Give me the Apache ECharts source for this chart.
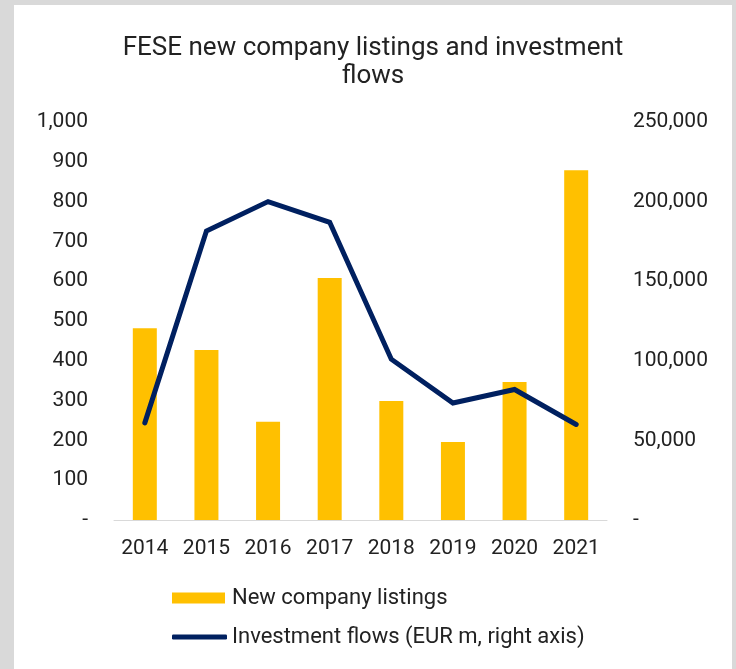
<!DOCTYPE html>
<html>
<head>
<meta charset="utf-8">
<script src="https://cdn.jsdelivr.net/npm/echarts@6/dist/echarts.min.js"></script>
<style>
  html, body { margin: 0; padding: 0; background: #d9d9d9; }
  #container { width: 736px; height: 669px; }
</style>
</head>
<body>
<div id="container"></div>
<script>
var years = ['2014', '2015', '2016', '2017', '2018', '2019', '2020', '2021'];
var listings = [482, 427, 247, 608, 299, 196, 347, 879];
var flows = [61000, 181500, 200000, 187000, 101000, 73500, 82000, 60000];

var dom = document.getElementById('container');
var myChart = echarts.init(dom, null, { renderer: 'canvas' });

function fmt(v) {
  if (v === 0) return '-';
  return v.toLocaleString('en-US');
}

var font = 'Roboto';
var textColor = '#222';
var navy = '#002060';

var option = {
  backgroundColor: '#d9d9d9',
  textStyle: { fontFamily: font },
  graphic: [
    {
      type: 'rect',
      z: -10,
      shape: { x: 14, y: 5, width: 718, height: 664 },
      style: { fill: '#ffffff' }
    }
  ],
  title: {
    text: 'FESE new company listings and investment\nflows',
    left: 368,
    top: 29,
    textAlign: 'center',
    textStyle: {
      fontFamily: font,
      fontSize: 26,
      fontWeight: 'normal',
      color: textColor,
      lineHeight: 28
    }
  },
  legend: [
    {
      data: [{ name: 'New company listings', icon: 'rect' }],
      left: 172,
      top: 587,
      padding: 0,
      itemWidth: 53,
      itemHeight: 11,
      textStyle: { fontFamily: font, fontSize: 22, color: textColor, padding: [0, 0, 0, 2] }
    },
    {
      data: [{ name: 'Investment flows (EUR m, right axis)', icon: 'roundRect', itemStyle: { color: navy } }],
      left: 172,
      top: 626,
      padding: 0,
      itemWidth: 55,
      itemHeight: 5,
      textStyle: { fontFamily: font, fontSize: 22, color: textColor, padding: [0, 0, 0, 0] }
    }
  ],
  grid: {
    left: 114,
    right: 129,
    top: 122,
    bottom: 149
  },
  xAxis: {
    type: 'category',
    data: years,
    axisLine: { show: true, lineStyle: { color: '#d9d9d9', width: 1 } },
    axisTick: { show: false },
    axisLabel: { fontFamily: font, fontSize: 21, color: textColor, margin: 18 }
  },
  yAxis: [
    {
      type: 'value',
      min: 0,
      max: 1000,
      interval: 100,
      splitLine: { show: false },
      axisLine: { show: false },
      axisTick: { show: false },
      axisLabel: { fontFamily: font, fontSize: 21, color: textColor, margin: 26, formatter: fmt }
    },
    {
      type: 'value',
      min: 0,
      max: 250000,
      interval: 50000,
      splitLine: { show: false },
      axisLine: { show: false },
      axisTick: { show: false },
      axisLabel: { fontFamily: font, fontSize: 21, color: textColor, margin: 26, formatter: fmt }
    }
  ],
  series: [
    {
      name: 'New company listings',
      type: 'bar',
      data: listings,
      barWidth: 24,
      itemStyle: { color: '#ffc000' }
    },
    {
      name: 'Investment flows (EUR m, right axis)',
      type: 'line',
      yAxisIndex: 1,
      data: flows,
      symbol: 'none',
      lineStyle: { color: navy, width: 5, cap: 'round', join: 'miter' },
      itemStyle: { color: navy }
    }
  ]
};

if (option && typeof option === 'object') {
  myChart.setOption(option);
}

window.addEventListener('resize', myChart.resize);
</script>
</body>
</html>
